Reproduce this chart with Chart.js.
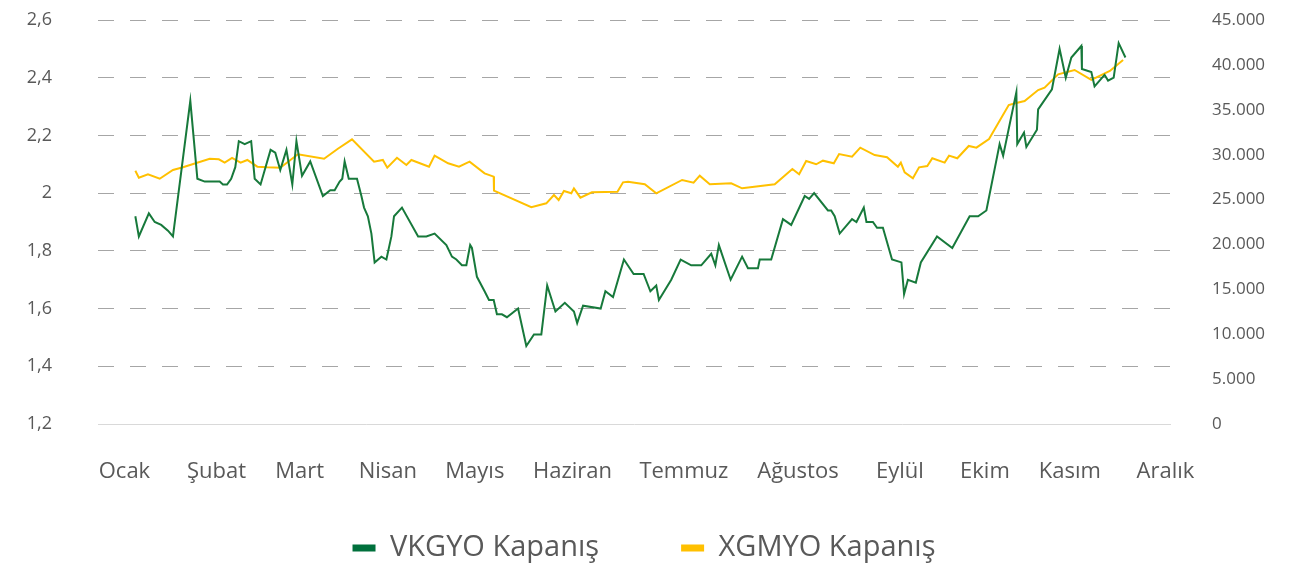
<!DOCTYPE html>
<html><head><meta charset="utf-8">
<script src="https://cdn.jsdelivr.net/npm/chart.js@4"></script>
<style>html,body{margin:0;padding:0;background:#fff}#wrap{width:1306px;height:570px;position:relative}</style>
</head><body><div id="wrap"><canvas id="c"></canvas></div>
<script>
// Month labels on the x axis and the day positions of those labels
const months = ['Ocak','Şubat','Mart','Nisan','Mayıs','Haziran','Temmuz','Ağustos','Eylül','Ekim','Kasım','Aralık'];
const monthTickDays = [9.0, 40.3, 68.6, 98.6, 128.2, 161.4, 199.3, 238.1, 272.8, 301.7, 330.6, 363.1];

// VKGYO closing price (left axis)
const vkgyoX = [
 12.7, 13.9, 17.3, 19.3, 21.5, 23.8, 25.5, 31.4, 33.8, 36.3,
 39.9, 41.4, 42.5, 43.9, 45.3, 46.7, 47.9, 49.9, 52.1, 53.3,
 55.3, 58.7, 60.3, 62.0, 64.1, 66.1, 67.5, 69.4, 72.2, 76.5,
 79.0, 80.5, 82.2, 83.1, 83.9, 85.3, 88.1, 89.6, 90.5, 91.8,
 93.0, 94.1, 96.4, 98.1, 99.8, 100.7, 103.4, 108.9, 111.7, 114.5,
 118.5, 120.4, 121.9, 123.8, 125.3, 126.6, 127.2, 128.9, 131.5, 133.0,
 134.6, 135.7, 137.4, 139.1, 142.9, 145.7, 148.3, 150.8, 152.8, 155.6,
 158.8, 161.9, 163.0, 165.0, 171.0, 172.6, 175.2, 178.9, 182.2, 185.6,
 187.9, 189.9, 190.8, 195.0, 198.2, 201.8, 205.2, 208.6, 210.0, 211.2,
 215.2, 219.1, 221.1, 224.5, 225.1, 229.0, 233.0, 235.8, 240.4, 241.9,
 243.6, 248.3, 249.4, 250.6, 252.3, 256.5, 258.0, 260.5, 261.4, 263.6,
 265.0, 267.0, 270.1, 273.3, 274.2, 275.5, 278.2, 279.9, 285.4, 290.6,
 296.5, 299.4, 302.2, 306.7, 307.9, 312.4, 312.7, 315.0, 315.8, 319.4,
 319.8, 324.5, 327.1, 329.2, 331.1, 334.5, 334.7, 337.9, 339.0, 342.4,
 343.6, 345.5, 347.2, 349.5
];
const vkgyoY = [
 1.92, 1.85, 1.93, 1.90, 1.89, 1.87, 1.85, 2.32, 2.05, 2.04,
 2.04, 2.04, 2.03, 2.03, 2.05, 2.09, 2.18, 2.17, 2.18, 2.05,
 2.03, 2.15, 2.14, 2.08, 2.15, 2.03, 2.18, 2.06, 2.11, 1.99,
 2.01, 2.01, 2.04, 2.05, 2.11, 2.05, 2.05, 1.99, 1.95, 1.92,
 1.86, 1.76, 1.78, 1.77, 1.85, 1.92, 1.95, 1.85, 1.85, 1.86,
 1.82, 1.78, 1.77, 1.75, 1.75, 1.82, 1.81, 1.71, 1.66, 1.63,
 1.63, 1.58, 1.58, 1.57, 1.60, 1.47, 1.51, 1.51, 1.68, 1.59,
 1.62, 1.59, 1.55, 1.61, 1.60, 1.66, 1.64, 1.77, 1.72, 1.72,
 1.66, 1.68, 1.63, 1.70, 1.77, 1.75, 1.75, 1.79, 1.75, 1.82,
 1.70, 1.78, 1.74, 1.74, 1.77, 1.77, 1.91, 1.89, 1.99, 1.98,
 2.00, 1.94, 1.94, 1.92, 1.86, 1.91, 1.90, 1.95, 1.90, 1.90,
 1.88, 1.88, 1.77, 1.76, 1.65, 1.70, 1.69, 1.76, 1.85, 1.81,
 1.92, 1.92, 1.94, 2.17, 2.13, 2.35, 2.17, 2.21, 2.16, 2.22,
 2.29, 2.36, 2.50, 2.40, 2.47, 2.51, 2.43, 2.42, 2.37, 2.41,
 2.39, 2.40, 2.52, 2.47
];

// XGMYO closing value (right axis)
const xgmyoX = [
 12.7, 13.9, 17.0, 21.0, 25.5, 28.9, 38.0, 41.1, 43.1, 45.6,
 48.5, 50.8, 54.2, 57.6, 62.0, 68.0, 76.9, 81.6, 86.4, 93.9,
 96.9, 98.4, 101.7, 104.9, 106.6, 112.6, 114.5, 119.1, 122.8, 126.4,
 131.5, 134.6, 134.7, 147.4, 152.5, 155.1, 156.7, 158.5, 161.0, 161.9,
 164.1, 168.0, 176.7, 178.6, 180.3, 186.0, 189.9, 198.7, 202.6, 204.7,
 208.1, 215.4, 219.1, 230.2, 236.2, 238.5, 240.9, 244.3, 246.6, 250.3,
 252.1, 256.5, 259.3, 264.2, 268.4, 272.1, 273.1, 274.4, 277.2, 279.3,
 282.1, 283.8, 288.0, 289.5, 292.3, 296.2, 298.8, 303.1, 309.8, 312.0,
 315.2, 319.8, 322.0, 326.6, 332.2, 337.9, 344.2, 348.7
];
const xgmyoY = [
 28200, 27430, 27810, 27320, 28290, 28590, 29550, 29480, 29110, 29630,
 29110, 29410, 28660, 28590, 28550, 30040, 29550, 30660, 31710, 29220,
 29410, 28550, 29660, 28850, 29410, 28660, 29890, 29040, 28660, 29220,
 27920, 27550, 25990, 24140, 24580, 25510, 24950, 25950, 25700, 26250,
 25210, 25810, 25880, 26920, 26990, 26700, 25700, 27180, 26880, 27660,
 26700, 26810, 26250, 26700, 28400, 27810, 29300, 28930, 29330, 29040,
 30070, 29770, 30780, 29960, 29710, 28660, 29110, 28040, 27370, 28590,
 28740, 29600, 29110, 29890, 29600, 30970, 30780, 31750, 35530, 35720,
 35980, 37200, 37460, 38950, 39430, 38320, 39320, 40550
];

const seriesNames = ['VKGYO Kapanış', 'XGMYO Kapanış'];

const fmtLeft = v => String(Math.round(v * 10) / 10).replace('.', ',');
const fmtRight = v => String(Math.round(v)).replace(/\B(?=(\d{3})+(?!\d))/g, '.');

Chart.defaults.font.family = "'Open Sans', 'Noto Sans', sans-serif";
Chart.defaults.color = '#595959';

// moves the legend block (layout only) so its row sits under the axis labels
const legendPlacement = {
  id: 'legendPlacement',
  afterLayout(chart, args, opts) {
    const lg = chart.legend;
    if (!lg) return;
    lg.top -= opts.lift;
    lg.left += opts.dx; lg.right += opts.dx;
  }
};

const ctx = document.getElementById('c').getContext('2d');
new Chart(ctx, {
  type: 'line',
  plugins: [legendPlacement],
  data: {
    datasets: [
      {
        label: seriesNames[0],
        data: vkgyoX.map((x, i) => ({ x, y: vkgyoY[i] })),
        yAxisID: 'y',
        borderColor: '#17793b',
        backgroundColor: '#00703c',
        borderWidth: 2,
        pointRadius: 0,
        tension: 0
      },
      {
        label: seriesNames[1],
        data: xgmyoX.map((x, i) => ({ x, y: xgmyoY[i] })),
        yAxisID: 'y1',
        borderColor: '#ffc000',
        backgroundColor: '#ffc000',
        borderWidth: 2,
        pointRadius: 0,
        tension: 0
      }
    ]
  },
  options: {
    responsive: true,
    maintainAspectRatio: false,
    animation: false,
    layout: { padding: { top: 20, left: 0, right: 0, bottom: 0 } },
    plugins: {
      tooltip: { enabled: false },
      legendPlacement: { lift: 38.5, dx: -9 },
      legend: {
        position: 'bottom',
        maxHeight: 80,
        labels: {
          boxWidth: 23,
          boxHeight: 7,
          padding: 82,
          color: '#595959',
          font: { size: 29 },
          generateLabels: (chart) => Chart.defaults.plugins.legend.labels.generateLabels(chart)
            .map(l => Object.assign(l, { lineWidth: 0, fillStyle: chart.data.datasets[l.datasetIndex].backgroundColor }))
        }
      }
    },
    scales: {
      x: {
        type: 'linear',
        min: 0,
        max: 365,
        grid: { display: false, drawTicks: false },
        border: { display: false },
        afterBuildTicks: (s) => { s.ticks = monthTickDays.map(v => ({ value: v })); },
        afterFit: (s) => { s.height = 66; },
        ticks: {
          autoSkip: false,
          maxRotation: 0,
          padding: 34.8,
          font: { size: 22 },
          color: '#595959',
          callback: (v, i) => months[i]
        }
      },
      y: {
        position: 'left',
        min: 1.2,
        max: 2.6,
        afterFit: (s) => { s.width = 98; s.paddingTop = 12; s.paddingBottom = 12; },
        ticks: { stepSize: 0.2, padding: 46, font: { size: 18 }, color: '#595959', callback: fmtLeft },
        grid: { drawTicks: false, lineWidth: 1, color: (c) => c.index === 0 ? '#d9d9d9' : '#a6a6a6' },
        border: { display: false, dash: (c) => c.index === 0 ? [] : [16, 16] }
      },
      y1: {
        position: 'right',
        min: 0,
        max: 45000,
        afterFit: (s) => { s.width = 135; s.paddingTop = 12; s.paddingBottom = 12; },
        ticks: { stepSize: 5000, padding: 41, font: { size: 17 }, color: '#595959', callback: fmtRight },
        grid: { display: false, drawTicks: false },
        border: { display: false }
      }
    }
  }
});
</script>
</body></html>
